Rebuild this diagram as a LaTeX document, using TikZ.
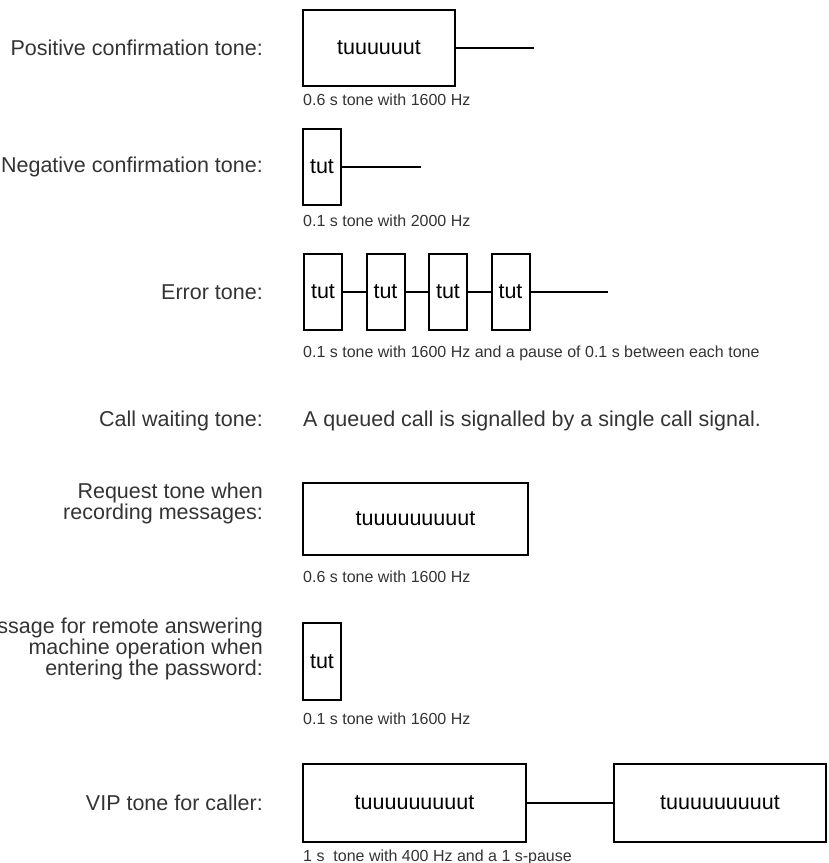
\documentclass[tikz,border=0pt]{standalone}
\usepackage{fontspec}
\setmainfont{Liberation Sans}
\usepackage{tikz}

\begin{document}
\begin{tikzpicture}[x=1pt,y=-1pt,
    tone/.style={draw, line width=2pt, inner sep=0pt, font=\fontsize{21.5}{21.5}\selectfont},
    short/.style={tone, minimum width=38pt, minimum height=76pt},
    what/.style={anchor=east, align=right, inner sep=0pt, text=black!80, font=\fontsize{21.5}{18}\selectfont},
    note/.style={anchor=west, inner sep=0pt, text=black!80, font=\fontsize{16}{16}\selectfont},
    pause/.style={line width=1.6pt}]
  \useasboundingbox (0,0) rectangle (829,863);
  \clip (0,0) rectangle (829,863);

  % positive confirmation
  \node[what] (posl) at (263,48) {Positive confirmation tone:};
  \node[tone, minimum width=152pt, minimum height=76pt] (pos) at (379,48) {tuuuuuut};
  \coordinate (posend) at (534,48);
  \draw[pause] (pos.east) -- (posend);
  \node[note] (posn) at (303,100) {0.6 s tone with 1600 Hz};

  % negative confirmation
  \node[what] (negl) at (263,167) {Negative confirmation tone:};
  \node[short] (neg) at (322,167) {tut};
  \coordinate (negend) at (421,167);
  \draw[pause] (neg.east) -- (negend);
  \node[note] (negn) at (303,221) {0.1 s tone with 2000 Hz};

  % error tone
  \node[what] (errl) at (263,292) {Error tone:};
  \foreach \i/\x in {1/323,2/385.5,3/448,4/510.5}
    \node[short] (err\i) at (\x,292) {tut};
  \coordinate (errend) at (608,292);
  \draw[pause] (err1) -- (err2);
  \draw[pause] (err2) -- (err3);
  \draw[pause] (err3) -- (err4);
  \draw[pause] (err4.east) -- (errend);
  \node[note] (errn) at (303,353)
    {0.1 s tone with 1600 Hz and a pause of 0.1 s between each tone};

  % call waiting
  \node[what] (waitl) at (263,421) {Call waiting tone:};
  \node[anchor=west, inner sep=0pt, text=black!80, font=\fontsize{21.5}{21.5}\selectfont]
    (waitt) at (303,421) {A queued call is signalled by a single call signal.};

  % request tone
  \node[what] (reql) at (263,503) {Request tone when\\recording messages:};
  \node[tone, minimum width=225pt, minimum height=72pt] (req) at (415.5,519) {tuuuuuuuuut};
  \node[note] (reqn) at (303,577) {0.6 s tone with 1600 Hz};

  % remote operation
  \node[what] (reml) at (263,649)
    {Message for remote answering\\machine operation when\\entering the password:};
  \node[short, minimum height=77pt] (rem) at (322,661.5) {tut};
  \node[note] (remn) at (303,719) {0.1 s tone with 1600 Hz};

  % VIP tone
  \node[what] (vipl) at (263,803) {VIP tone for caller:};
  \node[tone, minimum width=223pt, minimum height=78pt] (vip1) at (414.5,803) {tuuuuuuuuut};
  \node[tone, minimum width=212pt, minimum height=78pt] (vip2) at (720,803) {tuuuuuuuuut};
  \draw[pause] (vip1) -- (vip2);
  \node[note] (vipn) at (303,857) {1 s\ \ tone with 400 Hz and a 1 s-pause};
\end{tikzpicture}
\end{document}
